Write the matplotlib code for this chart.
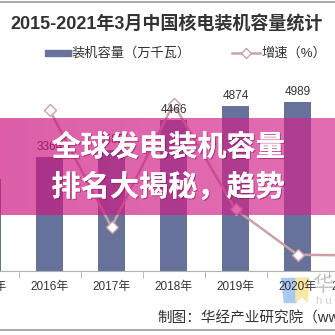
import matplotlib
matplotlib.use('Agg')
import matplotlib.pyplot as plt
import matplotlib.patheffects as patheffects
from matplotlib.lines import Line2D
from matplotlib.patches import Rectangle, Polygon
import numpy as np

YEARS = ['2015年', '2016年', '2017年', '2018年', '2019年', '2020年', '2021年3月']
CAPACITY = [2717, 3364, 3582, 4466, 4874, 4989, 5102]   # 万千瓦
GROWTH = [np.nan, 23.8, 6.5, 24.7, 9.1, 2.4, 2.3]        # %

TITLE = '2015-2021年3月中国核电装机容量统计'
LEGEND_LABELS = ['装机容量（万千瓦）', '增速（%）']
BANNER_LINES = ['全球发电装机容量', '排名大揭秘，趋势']
SOURCE = '制图：华经产业研究院（www.huaon.com）'

BAR_COLOR = '#66729a'
LINE_COLOR = '#c9a2a8'
TEXT_COLOR = '#333333'

W = H = 335

plt.rcParams['font.family'] = ['Liberation Sans', 'Noto Sans CJK SC', 'DejaVu Sans']


def fx(x):
    return x / W


def fy(y):
    # pixel measured from the top -> figure fraction
    return 1 - y / H


fig = plt.figure(figsize=(3.35, 3.35), dpi=100)

# plot area: category i centred at -12.5 + 62*i px, zero line at y=271 px
x = np.arange(len(YEARS))
ax = fig.add_axes([fx(-43.5), fy(271), fx(434), fx(203)])
ax.patch.set_visible(False)
ax.bar(x, CAPACITY, width=0.45, color=BAR_COLOR, zorder=2)
ax.set_xlim(-0.5, len(YEARS) - 0.5)
ax.set_ylim(0, 6000)
ax.set_xticks(x, YEARS)
ax.set_xticks(np.arange(-0.5, len(YEARS), 1), minor=True)
ax.tick_params(axis='x', which='major', length=0, pad=7, labelsize=8.5, labelcolor=TEXT_COLOR)
ax.tick_params(axis='x', which='minor', length=5, color='#b0b0b0')
ax.set_yticks([])
for s in ['left', 'right', 'top']:
    ax.spines[s].set_visible(False)
ax.spines['bottom'].set_color('#b0b0b0')

ax2 = ax.twinx()
ax2.plot(x, GROWTH, color=LINE_COLOR, lw=1.8, marker='D', markersize=6,
         markerfacecolor='white', markeredgecolor=LINE_COLOR, markeredgewidth=1)
ax2.set_ylim(0, 30)
ax2.set_yticks([])
for s in ax2.spines.values():
    s.set_visible(False)

# bar value labels sit above the growth line
for i, v in enumerate(CAPACITY):
    ax2.annotate(str(v), (i, v), xycoords=ax.transData, xytext=(0, 3), textcoords='offset points',
                 ha='center', va='bottom', fontsize=8.5, color=TEXT_COLOR, zorder=5)

# title and legend
fig.text(fx(167), fy(25), TITLE, ha='center', va='center', fontsize=13,
         fontweight='bold', color=TEXT_COLOR)
fig.patches.append(Rectangle((fx(45), fy(55.5)), fx(26), fx(5), transform=fig.transFigure,
                             color=BAR_COLOR, zorder=3))
fig.text(fx(72), fy(53), LEGEND_LABELS[0], ha='left', va='center', fontsize=9.5, color=TEXT_COLOR)
fig.lines.append(Line2D([fx(232), fx(260)], [fy(53), fy(53)], transform=fig.transFigure,
                        color=LINE_COLOR, lw=1.8))
fig.lines.append(Line2D([fx(246)], [fy(53)], transform=fig.transFigure, marker='D', markersize=5,
                        markerfacecolor='white', markeredgecolor=LINE_COLOR, markeredgewidth=1))
fig.text(fx(261), fy(53), LEGEND_LABELS[1], ha='left', va='center', fontsize=9.5, color=TEXT_COLOR)

# frame lines
fig.lines.append(Line2D([0, 1], [fy(2), fy(2)], transform=fig.transFigure, color='#999999', lw=1.2))
fig.lines.append(Line2D([0, 1], [fy(329.5), fy(329.5)], transform=fig.transFigure, color='#999999', lw=1.2))

# watermark logo behind the axis labels
fig.patches.append(Polygon([(fx(281), fy(278)), (fx(296), fy(278)), (fx(296), fy(302)), (fx(284), fy(302))],
                           closed=True, transform=fig.transFigure, color='#a9c8f2', zorder=-1))
fig.patches.append(Polygon([(fx(296), fy(278)), (fx(309), fy(278)), (fx(307), fy(302)), (fx(302), fy(296)), (fx(296), fy(302))],
                           closed=True, transform=fig.transFigure, color='#f7e7a3', zorder=-1))
fig.text(fx(312), fy(285), '华', ha='left', va='center', fontsize=15, color='#c4c4c4', zorder=-1)
fig.text(fx(316), fy(301), 'h u', ha='left', va='center', fontsize=8, color='#d0d0d0', zorder=-1)

fig.text(fx(157), fy(318), SOURCE, ha='left', va='center', fontsize=10.5, color=TEXT_COLOR)

# pink banner over the chart
bax = fig.add_axes([0, fy(215), 1, fx(97)])
grad = np.linspace(0, 1, 256)[None, :]
pink = np.zeros((1, 256, 4))
pink[..., 0] = (0.80 + 0.03 * grad)
pink[..., 1] = (0.08 + 0.08 * grad)
pink[..., 2] = (0.50 + 0.06 * grad)
pink[..., 3] = 0.68
bax.imshow(pink, aspect='auto', extent=(0, 1, 0, 1))
bax.set_axis_off()

for i, line in enumerate(BANNER_LINES):
    fig.text(fx(168), fy(147 + 40 * i), line, ha='center', va='center', fontsize=21,
             fontweight='bold', color='white', family=['Noto Sans CJK SC', 'DejaVu Sans'],
             path_effects=[patheffects.withSimplePatchShadow(offset=(0.8, -0.8), shadow_rgbFace='#7a1050', alpha=0.5),
                           patheffects.Normal()])

fig.savefig('out.png', dpi=100)
